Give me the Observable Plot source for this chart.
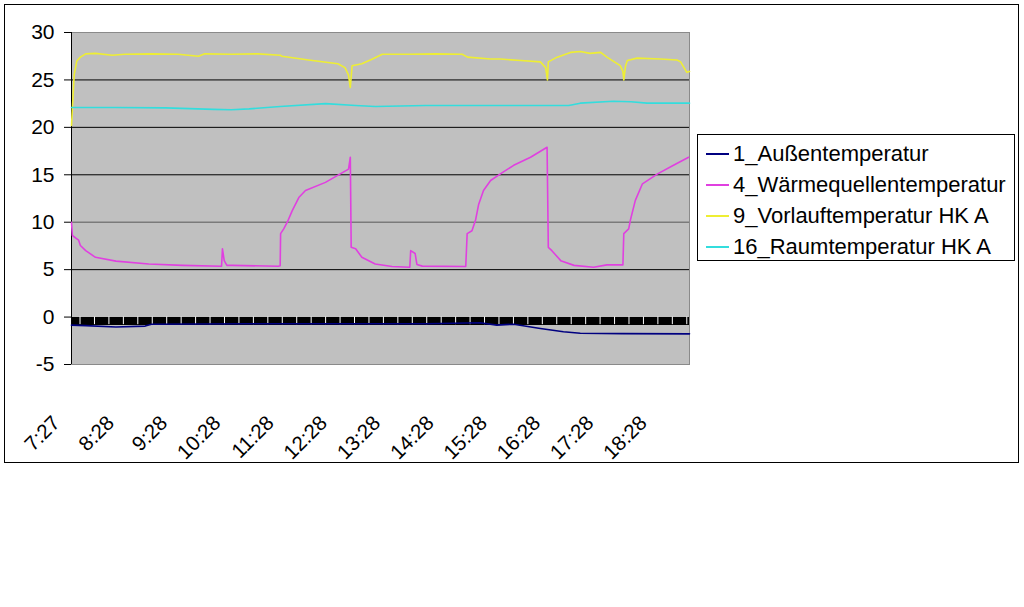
<!DOCTYPE html>
<html>
<head>
<meta charset="utf-8">
<script src="https://cdn.jsdelivr.net/npm/d3@7"></script>
<script src="https://cdn.jsdelivr.net/npm/@observablehq/plot@0.6"></script>
<style>
  body { margin: 0; background: #fff; font-family: "Liberation Sans", Arial, sans-serif; }
  #wrap { position: relative; width: 1024px; height: 607px; }
  #border { position: absolute; left: 4px; top: 4px; width: 1013px; height: 457px; border: 1px solid #000; pointer-events: none; }
  #legend { position: absolute; left: 697px; top: 134px; width: 316px; height: 125px; border: 1px solid #000; background: #fff; }
  .row { position: absolute; left: 0; height: 30px; display: flex; align-items: center; font-size: 22px; color: #000; white-space: nowrap; }
  .sw { width: 23px; height: 2px; margin-left: 8px; margin-right: 4px; }
</style>
</head>
<body>
<div id="wrap">
  <div id="chart"></div>
  <div id="border"></div>
  <div id="legend"></div>
</div>
<script>
// Minutes after 7:27 (start of recording)
const tickOffsets = [0, 61, 121, 181, 241, 301, 361, 421, 481, 541, 601, 661];
const tickLabels = ["7:27","8:28","9:28","10:28","11:28","12:28","13:28","14:28","15:28","16:28","17:28","18:28"];
const yTicks = [-5, 0, 5, 10, 15, 20, 25, 30];

const seriesNames = ["1_Außentemperatur", "4_Wärmequellentemperatur", "9_Vorlauftemperatur HK A", "16_Raumtemperatur HK A"];
const seriesColors = ["#000080", "#e040e0", "#eeee33", "#33dddd"];

// 1_Außentemperatur  [minute, °C]
const aussen = [[0,-0.85],[16,-0.9],[50,-1.05],[83,-0.95],[90,-0.75],[200,-0.7],[400,-0.7],[460,-0.6],[479,-0.85],[498,-0.75],[528,-1.2],[554,-1.55],[573,-1.7],[620,-1.75],[696,-1.77]];
// 4_Wärmequellentemperatur
const waermequelle = [[0,10.0],[1,8.6],[6,8.25],[8,8.1],[10,7.55],[16,7.0],[27,6.3],[50,5.9],[87,5.6],[125,5.45],[169,5.35],[170,7.2],[172,5.95],[175,5.45],[181,5.45],[233,5.35],[235,5.4],[235.5,8.8],[239,9.3],[243,10.0],[248.5,11.2],[256,12.6],[263.5,13.35],[286,14.2],[312,15.6],[314,16.85],[315,7.35],[320,7.2],[327,6.3],[342,5.6],[361,5.33],[381,5.26],[382,7.0],[387,6.7],[389,5.55],[395,5.37],[444,5.33],[445.6,8.8],[451,9.1],[455,10.2],[458.6,11.9],[464,13.35],[472,14.4],[483,15.1],[498,16.0],[517,16.85],[535.6,17.9],[537,7.35],[541,7.0],[551,5.95],[566,5.45],[588,5.26],[603,5.5],[621,5.5],[622,8.8],[627.5,9.3],[629.4,10.2],[635,12.3],[643,14.05],[660,15.1],[678,16.0],[695,16.85]];
// 9_Vorlauftemperatur HK A
const vorlauf = [[0,20.2],[1,22],[3,25.5],[6,27.0],[10,27.4],[16,27.75],[27,27.8],[46,27.6],[60,27.7],[90,27.75],[120,27.7],[143,27.5],[150,27.75],[180,27.7],[210,27.75],[235,27.6],[237,27.5],[267,27.1],[300,26.7],[308,26.3],[312,25.5],[314,24.2],[316,26.5],[327,26.7],[339,27.2],[350,27.7],[380,27.7],[410,27.75],[440,27.7],[446,27.4],[472,27.2],[483,27.2],[506,27.05],[528,26.9],[534,26.3],[536,25.0],[537,26.9],[547,27.4],[562,27.9],[573,28.0],[584,27.8],[596,27.9],[603,27.4],[618,26.5],[621,25.9],[622,25.0],[624,26.5],[626,27.05],[637,27.3],[663,27.2],[682,27.1],[686,26.9],[693,25.8],[696,25.9]];
// 16_Raumtemperatur HK A
const raum = [[0,22.1],[50,22.1],[106,22.05],[160,21.9],[180,21.85],[200,21.95],[235,22.2],[286,22.5],[320,22.3],[342,22.2],[399,22.3],[460,22.3],[520,22.3],[560,22.3],[573,22.55],[610,22.75],[630,22.7],[648,22.55],[696,22.55]];

const allSeries = [aussen, waermequelle, vorlauf, raum];
const xDomain = [0, 696];
const minorTicks = d3.range(9.6, 696, 16.27);

const lineMark = (data, color) => Plot.line(data, {x: d => d[0], y: d => d[1], stroke: color, strokeWidth: 1.6});

const chart = Plot.plot({
  width: 1024,
  height: 607,
  marginLeft: 71,
  marginRight: 335,
  marginTop: 32,
  marginBottom: 243,
  style: {fontFamily: "'Liberation Sans', Arial, sans-serif", background: "transparent", color: "#000"},
  x: {domain: xDomain},
  y: {domain: [-5, 30]},
  marks: [
    Plot.frame({fill: "#c0c0c0", stroke: "#8a8a8a"}),
    Plot.gridY([5, 15, 20, 25], {stroke: "#000", strokeOpacity: 1}),
    Plot.gridY([10], {stroke: "#7a7a7a", strokeOpacity: 1, strokeWidth: 1.5}),
    Plot.ruleY([0], {stroke: "#000", strokeWidth: 8, dy: 4}),
    Plot.ruleX(minorTicks, {y1: 0, y2: -0.8, stroke: "#fff", strokeWidth: 1}),
    Plot.ruleX([0], {stroke: "#000"}),
    ...allSeries.map((s, i) => lineMark(s, seriesColors[i])),
    Plot.axisY({ticks: yTicks, tickSize: 7, tickPadding: 10, fontSize: 21, tickFormat: d => d < 0 ? "-" + Math.abs(d) : d}),
    Plot.axisX({ticks: tickOffsets, tickFormat: (d) => tickLabels[tickOffsets.indexOf(d)], tickSize: 0, tickRotate: -45, tickPadding: 55, dx: -15, fontSize: 20.5})
  ]
});
document.getElementById("chart").appendChild(chart);

const legend = document.getElementById("legend");
seriesNames.forEach((name, i) => {
  const row = document.createElement("div");
  row.className = "row";
  row.style.top = (4 + i * 31) + "px";
  const sw = document.createElement("div");
  sw.className = "sw";
  sw.style.background = seriesColors[i];
  const t = document.createElement("span");
  t.textContent = name;
  row.appendChild(sw);
  row.appendChild(t);
  legend.appendChild(row);
});
</script>
</body>
</html>
